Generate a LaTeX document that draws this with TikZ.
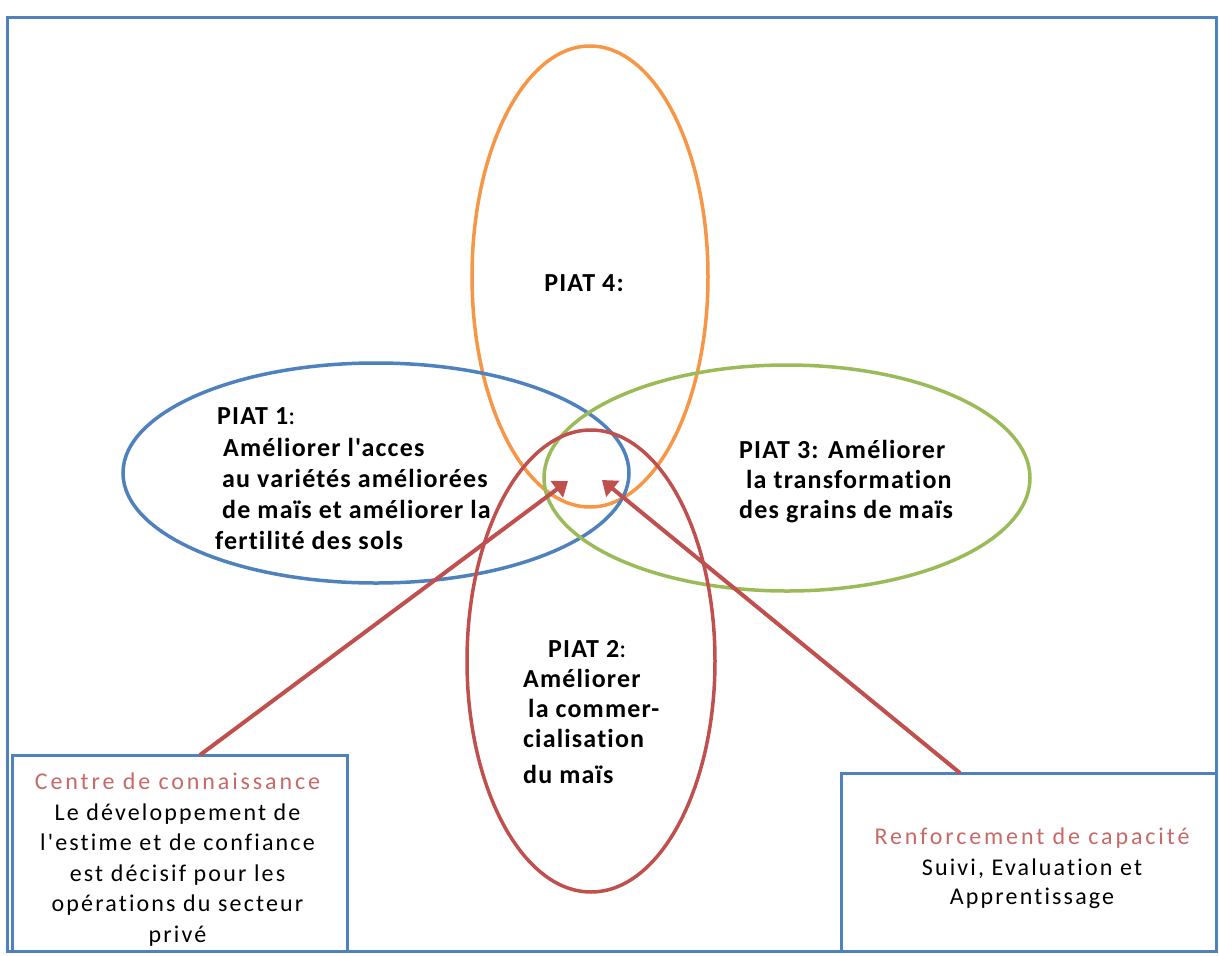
\documentclass[tikz,border=0pt]{standalone}
\usepackage{fontspec}
\setmainfont{Carlito}
\newfontfamily\cfp{Carlito}[Ligatures=NoCommon, LetterSpace=4.5]
\newfontfamily\cfb{Carlito}[Ligatures=NoCommon, LetterSpace=9]
\newfontfamily\cft{Carlito}[Ligatures=NoCommon, LetterSpace=12]
\usetikzlibrary{shapes.geometric,arrows.meta}
\definecolor{obl}{RGB}{79,129,189}
\definecolor{oor}{RGB}{247,150,70}
\definecolor{ogr}{RGB}{155,187,89}
\definecolor{ore}{RGB}{192,80,77}
\definecolor{otitle}{RGB}{200,105,104}
\begin{document}
\begin{tikzpicture}[x=1pt,y=-1pt,
  petal/.style={draw, ellipse, line width=3.5pt, inner sep=0pt},
  piat/.style={font=\cfp\bfseries\fontsize{26}{30}\selectfont, align=left, inner sep=0pt, anchor=north west},
  frame/.style={draw=obl, line width=3pt, inner sep=0pt},
  boxtext/.style={font=\cfb\fontsize{24}{30.5}\selectfont, align=center, inner sep=0pt, anchor=north},
  arr/.style={draw=ore, line width=4pt, -{Triangle[width=20pt,length=14pt]}}
]
\useasboundingbox (0,0) rectangle (1219,956);
\draw[frame] (7,17) rectangle (1216,951);

% petals
\node[petal, draw=oor, minimum width=236pt, minimum height=461pt] (p4) at (590,276.5) {};
\node[petal, draw=obl, minimum width=506pt, minimum height=220pt] (p1) at (376,473) {};
\node[petal, draw=ogr, minimum width=486pt, minimum height=226pt] (p3) at (787,478) {};
\node[petal, draw=ore, minimum width=248pt, minimum height=462pt] (p2) at (591,661) {};

% petal texts
\node[piat, anchor=north] (t4) at (584,274) {PIAT 4:};
\node[piat] (t1) at (215,407) {\hspace*{2pt}PIAT 1{\mdseries:}\\[2pt]
\hspace*{8pt}Améliorer l'acces\\[1pt]
\hspace*{7pt}au variétés améliorées\\[1pt]
\hspace*{7pt}de maïs et améliorer la\\[1pt]
fertilité des sols};
\node[piat] (t3) at (739,440) {PIAT 3: Améliorer\\
\hspace*{7pt}la transformation\\
des grains de maïs};
\node[piat] (t2) at (523,640) {\hspace*{25pt}PIAT 2{\mdseries:}\\
Améliorer\\
\hspace*{5pt}la commer-\\
cialisation\\[6pt]
du maïs};

% boxes
\node[frame, fill=white, minimum width=335pt, minimum height=196pt] (lbox) at (179.5,853.5) {};
\node[frame, fill=white, minimum width=375pt, minimum height=178pt] (rbox) at (1028.5,862) {};
\node[boxtext] (lt) at (177.5,773) {{\cft\textcolor{otitle}{Centre de connaissance}}\\
Le développement de\\
l'estime et de confiance\\
est décisif pour les\\
opérations du secteur\\
privé};
\node[boxtext] (rt) at (1032,827.5) {{\cft\textcolor{otitle}{Renforcement de capacité}}\\[1pt]
Suivi, Evaluation et\\[-2pt]
Apprentissage};

% arrows
\coordinate (la) at (200,755);
\coordinate (ltip) at (568,481);
\coordinate (ra) at (960,773);
\coordinate (rtip) at (602,480);
\draw[arr] (la) -- (ltip);
\draw[arr] (ra) -- (rtip);
\end{tikzpicture}
\end{document}
